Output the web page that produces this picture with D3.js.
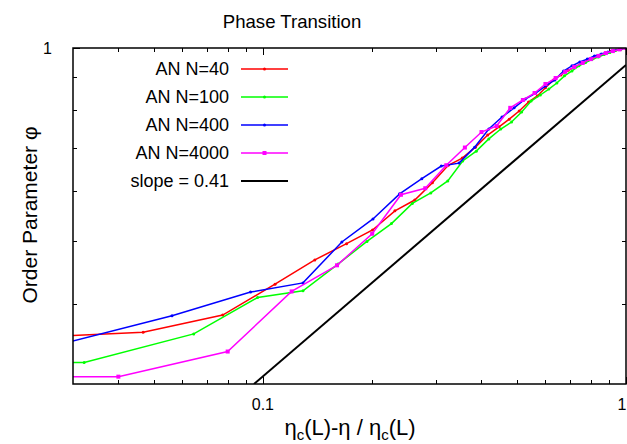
<!DOCTYPE html>
<html><head><meta charset="utf-8">
<script src="https://cdn.jsdelivr.net/npm/d3@7"></script>
<style>body{margin:0;background:#fff}svg{display:block}text{font-family:"Liberation Sans",Arial,sans-serif}</style>
</head><body><svg id="c" width="627" height="444"></svg>
<script>
const title = "Phase Transition";
const seriesNames = ["AN N=40","AN N=100","AN N=400","AN N=4000","slope = 0.41"];
const seriesColors = ["#ff0000","#00ff00","#0000ff","#ff00ff","#000000"];
const xTickLabels = ["0.1","1"];
const yTickLabels = ["1"];

const redX = [1,0.969,0.939,0.908,0.877,0.846,0.816,0.785,0.754,0.723,0.693,0.662,0.631,0.600,0.570,0.539,0.508,0.477,0.447,0.416,0.385,0.354,0.324,0.293,0.262,0.231,0.2005,0.170,0.139,0.108,0.0775,0.0468,0.016];
const redY = [1.0,0.996,0.993,0.988,0.981,0.974,0.965,0.956,0.946,0.934,0.923,0.908,0.892,0.867,0.842,0.824,0.798,0.775,0.754,0.732,0.701,0.674,0.657,0.617,0.580,0.558,0.521,0.496,0.468,0.429,0.384,0.361,0.351];

const greenX = [1,0.968,0.935,0.903,0.871,0.839,0.806,0.774,0.742,0.710,0.677,0.645,0.613,0.581,0.548,0.516,0.484,0.452,0.419,0.387,0.355,0.323,0.290,0.258,0.226,0.1935,0.161,0.129,0.0967,0.0645,0.0322,0.001];
const greenY = [1.0,0.996,0.991,0.984,0.977,0.968,0.960,0.949,0.938,0.921,0.905,0.882,0.863,0.845,0.827,0.795,0.767,0.748,0.722,0.691,0.667,0.621,0.595,0.573,0.533,0.500,0.461,0.419,0.409,0.359,0.324,0.324];

const blueX = [1,0.964,0.927,0.891,0.855,0.8185,0.782,0.746,0.710,0.673,0.637,0.601,0.564,0.528,0.492,0.4555,0.419,0.383,0.347,0.310,0.274,0.238,0.201,0.165,0.129,0.0925,0.0562,0.0199];
const blueY = [1.0,0.996,0.991,0.986,0.979,0.972,0.961,0.951,0.938,0.921,0.892,0.873,0.851,0.833,0.807,0.781,0.748,0.701,0.662,0.655,0.626,0.593,0.542,0.499,0.431,0.417,0.383,0.330];

const magX = [1,0.96,0.92,0.88,0.84,0.80,0.76,0.72,0.68,0.64,0.60,0.56,0.52,0.48,0.44,0.40,0.36,0.32,0.28,0.24,0.20,0.16,0.12,0.08,0.04,0.001];
const magY = [1.0,0.995,0.989,0.982,0.972,0.961,0.948,0.934,0.918,0.898,0.879,0.851,0.830,0.807,0.756,0.740,0.700,0.657,0.605,0.591,0.514,0.459,0.418,0.337,0.308,0.308];

const slopeX = [0.0945, 1];
const slopeY = [0.3, 0.941];

const svg = d3.select("#c");
const L = 73, R = 626, T = 48, B = 384;
const x = d3.scaleLog().domain([0.03, 1]).range([L, R]);
const y = d3.scaleLog().domain([0.3, 1]).range([B, T]);

svg.append("defs").append("clipPath").attr("id","clip")
  .append("rect").attr("x",L).attr("y",T).attr("width",R-L).attr("height",B-T);

// title
svg.append("text").attr("x",292).attr("y",28).attr("text-anchor","middle")
  .attr("font-size",18.6).text(title);

// ticks (inward, mirrored)
const xMajor = [0.1, 1];
const xMinor = [0.04,0.05,0.06,0.07,0.08,0.09,0.2,0.3,0.4,0.5,0.6,0.7,0.8,0.9];
const yMajor = [1];
const yMinor = [0.4,0.5,0.6,0.7,0.8,0.9];
const tk = svg.append("g").attr("stroke","#000").attr("stroke-width",1);
xMajor.concat(xMinor).forEach(v=>{
  const len = xMajor.includes(v)?7:4;
  const px = Math.round(x(v))+0.5;
  tk.append("line").attr("x1",px).attr("x2",px).attr("y1",B).attr("y2",B-len);
  tk.append("line").attr("x1",px).attr("x2",px).attr("y1",T).attr("y2",T+len);
});
yMajor.concat(yMinor).forEach(v=>{
  const len = yMajor.includes(v)?7:4;
  const py = Math.round(y(v))+0.5;
  tk.append("line").attr("y1",py).attr("y2",py).attr("x1",L).attr("x2",L+len);
  tk.append("line").attr("y1",py).attr("y2",py).attr("x1",R).attr("x2",R-len);
});

// tick labels
xMajor.forEach((v,i)=>{
  const last = i===xMajor.length-1;
  svg.append("text").attr("x",last?626.5:x(v)).attr("y",410).attr("text-anchor",last?"end":"middle")
    .attr("font-size",16).text(xTickLabels[i]);
});
yMajor.forEach((v,i)=>{
  svg.append("text").attr("x",52).attr("y",y(v)+6).attr("text-anchor","end")
    .attr("font-size",16).text(yTickLabels[i]);
});

// axis labels
const xl = svg.append("text").attr("x",350).attr("y",435).attr("text-anchor","middle").attr("font-size",22);
xl.append("tspan").text("η");
xl.append("tspan").attr("font-size",15).attr("dy",5).text("c");
xl.append("tspan").attr("dy",-5).text("(L)-η / η");
xl.append("tspan").attr("font-size",15).attr("dy",5).text("c");
xl.append("tspan").attr("dy",-5).text("(L)");

svg.append("text").attr("transform","translate(37,215) rotate(-90)").attr("text-anchor","middle")
  .attr("font-size",21).text("Order Parameter φ");

// data
const plot = svg.append("g").attr("clip-path","url(#clip)");
const line = d3.line().x(d=>x(d[0])).y(d=>y(d[1]));
const zip = (a,b)=>a.map((v,i)=>[v,b[i]]);
const series = [zip(redX,redY), zip(greenX,greenY), zip(blueX,blueY), zip(magX,magY)];

plot.append("path").datum(zip(slopeX,slopeY)).attr("d",line).attr("fill","none")
  .attr("stroke",seriesColors[4]).attr("stroke-width",2);

series.forEach((s,i)=>{
  plot.append("path").datum(s).attr("d",line).attr("fill","none")
    .attr("stroke",seriesColors[i]).attr("stroke-width",1.5);
  s.forEach(d=>{
    if(i===3){
      plot.append("rect").attr("x",x(d[0])-2).attr("y",y(d[1])-2).attr("width",4).attr("height",4)
        .attr("fill",seriesColors[i]);
    } else {
      plot.append("circle").attr("cx",x(d[0])).attr("cy",y(d[1])).attr("r",1.5).attr("fill",seriesColors[i]);
    }
  });
});

// legend
const rows = [69,97,125,153,181];
seriesNames.forEach((n,i)=>{
  svg.append("text").attr("x",229).attr("y",rows[i]+6).attr("text-anchor","end")
    .attr("font-size",18).text(n);
  svg.append("line").attr("x1",241).attr("x2",288).attr("y1",rows[i]).attr("y2",rows[i])
    .attr("stroke",seriesColors[i]).attr("stroke-width",i===4?2:1.5);
  if(i===3){
    svg.append("rect").attr("x",262.5).attr("y",rows[i]-2).attr("width",4).attr("height",4).attr("fill",seriesColors[i]);
  } else if(i<3){
    svg.append("circle").attr("cx",264.5).attr("cy",rows[i]).attr("r",1.5).attr("fill",seriesColors[i]);
  }
});

// frame
svg.append("rect").attr("x",L).attr("y",T).attr("width",R-L).attr("height",B-T)
  .attr("fill","none").attr("stroke","#000").attr("stroke-width",1.5);
</script></body></html>
